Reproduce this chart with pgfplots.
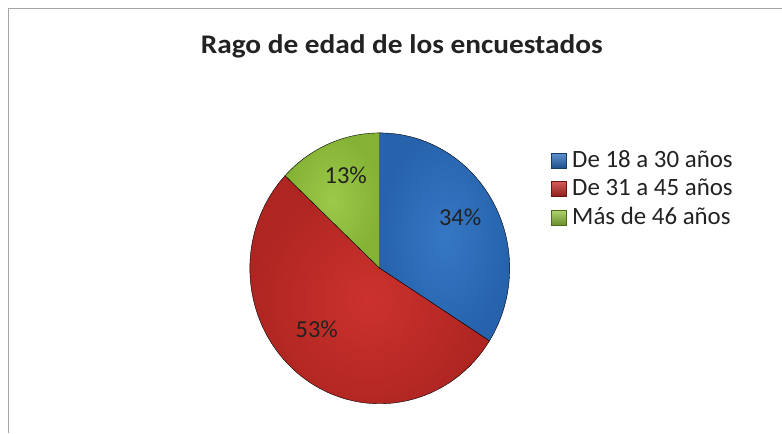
\documentclass[border=0pt]{standalone}
\usepackage{fontspec}
\setmainfont{Carlito}
\usepackage{pgfplots}
\usepackage{pgfplotstable}
\pgfplotsset{compat=1.18}

\definecolor{SliceIn1}{HTML}{3677C4}
\definecolor{SliceOut1}{HTML}{2663AC}
\definecolor{SliceIn2}{HTML}{CC322D}
\definecolor{SliceOut2}{HTML}{AE2521}
\definecolor{SliceIn3}{HTML}{9CC94A}
\definecolor{SliceOut3}{HTML}{84B234}
\definecolor{TxtDark}{HTML}{222222}
\definecolor{FrameGray}{HTML}{A6A6A6}

% slices, Excel order: clockwise from 12 o'clock
% cx cy: pie centre (px), a b: start / end angle, lx ly: label offset
\pgfplotstableread{
idx cx  cy    value a      b       lx     ly
1   380 164.5 34    90     -32.4   80.5   42.5
2   380 164.5 53    -32.4  -223.2  -63    -69.5
3   380 164.5 13    -223.2 -270    -34    84.5
}\slices

\begin{document}
\begin{tikzpicture}
\begin{axis}[
  scale only axis,
  width=782bp, height=433bp,
  xmin=0, xmax=782, ymin=0, ymax=433,
  hide axis,
  clip=false,
  legend style={
    at={(axis cs:551,286)}, anchor=north west,
    draw=none, fill=none, inner sep=0pt,
    font=\fontsize{25}{28}\selectfont, text=TxtDark,
    nodes={inner sep=2bp, text height=18bp, text depth=5bp},
    row sep=1.5bp,
    /tikz/every odd column/.append style={column sep=4bp},
  },
  legend cell align=left,
]
  % keep the full 782x433 canvas in the bounding box
  \path (axis cs:0,0) rectangle (axis cs:782,433);

  \addplot[
    forget plot,
    only marks,
    mark=text, text mark={},
    scatter,
    point meta=\thisrow{value},
    visualization depends on={\thisrow{idx} \as \sidx},
    visualization depends on={\thisrow{a} \as \angA},
    visualization depends on={\thisrow{b} \as \angB},
    visualization depends on={\thisrow{lx} \as \labX},
    visualization depends on={\thisrow{ly} \as \labY},
    visualization depends on={\thisrow{value} \as \pct},
    scatter/@pre marker code/.code={
      \pgfmathtruncatemacro\k{\sidx}
      \pgfmathtruncatemacro\p{\pct}
      \shade[inner color=SliceIn\k, outer color=SliceOut\k]
        (0,0) -- ({130bp*cos(\angA)},{135.5bp*sin(\angA)})
        arc[start angle=\angA, end angle=\angB, x radius=130bp, y radius=135.5bp]
        -- cycle;
      \node[anchor=base, inner sep=0pt, text=TxtDark,
            font=\fontsize{24.5}{28}\selectfont]
        at (\labX bp,\labY bp) {\p\%};
    },
    scatter/@post marker code/.code={},
  ] table[x=cx, y=cy] {\slices};

  \addlegendimage{legend image code/.code={
    \shade[top color=SliceIn1!80!white, bottom color=SliceOut1!80!black, draw=SliceOut1!60!black]
      (0bp,-7.5bp) rectangle (15bp,7.5bp);}}
  \addlegendimage{legend image code/.code={
    \shade[top color=SliceIn2!80!white, bottom color=SliceOut2!80!black, draw=SliceOut2!60!black]
      (0bp,-7.5bp) rectangle (15bp,7.5bp);}}
  \addlegendimage{legend image code/.code={
    \shade[top color=SliceIn3!80!white, bottom color=SliceOut3!80!black, draw=SliceOut3!60!black]
      (0bp,-7.5bp) rectangle (15bp,7.5bp);}}
  \legend{De 18 a 30 años, De 31 a 45 años, Más de 46 años}

  \node[anchor=base, inner sep=0pt, font=\fontsize{27}{30}\selectfont\bfseries, text=TxtDark]
    at (axis cs:402,379) {\scalebox{1.09}[1]{Rago de edad de los encuestados}};
  \draw[FrameGray, line width=1bp] (axis cs:9,0) -- (axis cs:9,424) -- (axis cs:782,424);
\end{axis}
\end{tikzpicture}
\end{document}
